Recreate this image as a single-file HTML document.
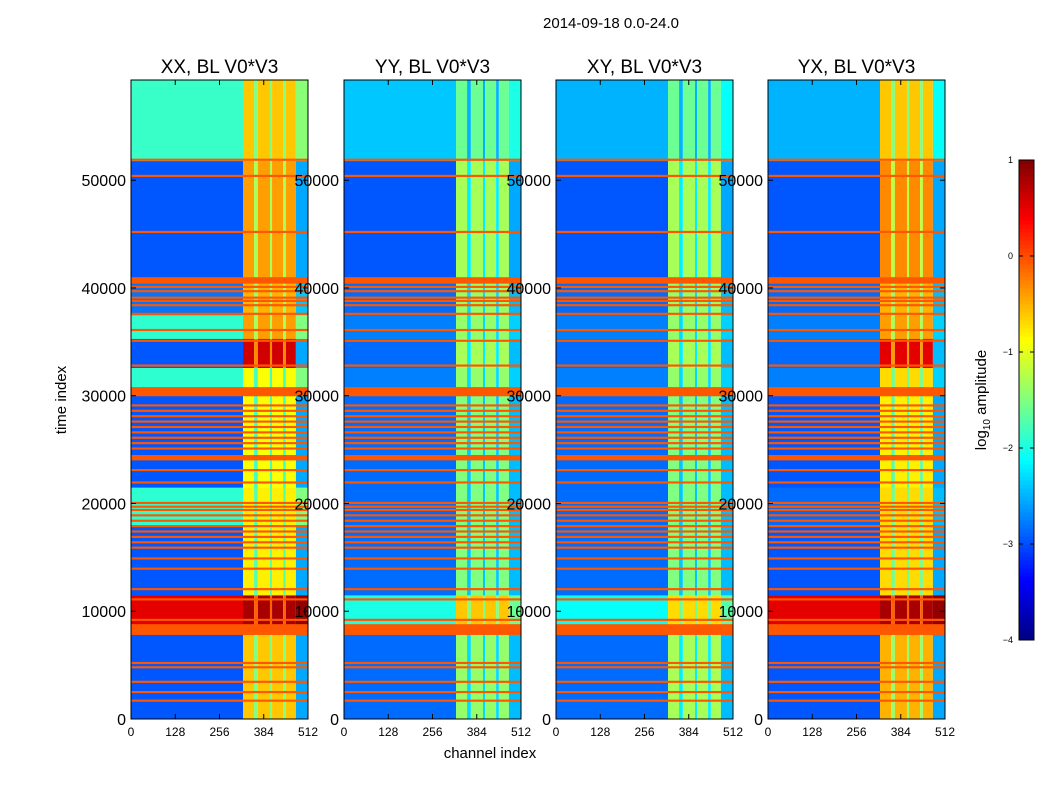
<!DOCTYPE html>
<html><head><meta charset="utf-8"><style>
body{margin:0;background:#fff;}
svg text{font-family:"Liberation Sans",sans-serif;}
</style></head><body>
<svg id="fig" width="1050" height="800" xmlns="http://www.w3.org/2000/svg">
<rect width="1050" height="800" fill="#fff"/>
<text x="611" y="28" font-size="15" text-anchor="middle">2014-09-18 0.0-24.0</text>
<text x="66" y="400" font-size="15" text-anchor="middle" transform="rotate(-90 66 400)">time index</text>
<text x="490" y="758" font-size="15" text-anchor="middle">channel index</text>
<g id="panels"></g>
<g id="cbar"></g>
<text x="986" y="400" font-size="15" text-anchor="middle" transform="rotate(-90 986 400)">log<tspan font-size="10" dy="4">10</tspan><tspan dy="-4"> amplitude</tspan></text>
</svg>
<script>
const panelTitles=["XX, BL V0*V3","YY, BL V0*V3","XY, BL V0*V3","YX, BL V0*V3"];
const yTicks=[0,10000,20000,30000,40000,50000];
const xTicks=[0,128,256,384,512];
const cbTicks=[1,0,-1,-2,-3,-4];
const segStarts=[0,8300,11500,18000,21500,30800,32600,35300,37500,41000,51800];
const bgXX=[-2.95,0.5,-2.95,-1.9,-2.95,-1.9,-2.95,-1.9,-2.8,-2.95,-1.85];
const bandXX=[-0.6,0.8,-0.8,-0.8,-0.9,-0.9,0.6,-0.4,-0.5,-0.4,-0.6];
const bgYY=[-2.85,-2.0,-2.85,-2.85,-2.85,-2.75,-2.85,-2.75,-2.85,-2.95,-2.4];
const bandYY=[-1.4,-0.6,-1.5,-1.5,-1.5,-1.4,-1.3,-1.4,-1.4,-1.3,-1.6];
const bgXY=[-2.85,-2.1,-2.85,-2.85,-2.85,-2.75,-2.85,-2.75,-2.85,-2.95,-2.5];
const bandXY=[-1.3,-0.7,-1.5,-1.5,-1.5,-1.4,-1.3,-1.4,-1.4,-1.3,-1.6];
const bgYX=[-2.95,0.5,-2.95,-2.85,-2.95,-2.75,-2.85,-2.75,-2.85,-2.95,-2.5];
const bandYX=[-0.5,0.8,-0.7,-0.7,-0.8,-0.7,0.5,-0.4,-0.5,-0.3,-0.6];
const colEdges=[0,324,356,367,402,408,440,448,477,512];
const colType=['bg','band','gap','band','gap','band','gap','band','edge'];
const flagStart=[1600,2400,3350,4700,5100,7800,9100,11000,11950,13850,14800,15800,16300,16800,17300,17800,18300,18800,19300,19600,19950,21850,23000,24000,25000,25500,26000,26500,27000,27500,28000,28500,29000,29950,32700,35000,36000,37500,38300,38700,39000,39600,40000,40400,45100,50300,51800];
const flagEnd=  [1800,2600,3550,4900,5300,8800,9300,11200,12150,14050,15000,16000,16500,17000,17500,18000,18500,19000,19500,19800,20150,22050,23200,24500,25200,25700,26200,26700,27200,27700,28200,28700,29200,30800,32900,35200,36200,37700,38500,38900,39200,39800,40200,41000,45300,50500,52000];
const tMax=59300, cMax=512;
const bgs=[bgXX,bgYY,bgXY,bgYX], bands=[bandXX,bandYY,bandXY,bandYX];
const panelX=[131,344,556,768], pw=177, plotTop=80, plotBot=719;
function jet(v){const t=Math.max(0,Math.min(1,(v+4)/5));
 const c=x=>Math.round(255*Math.max(0,Math.min(1,x)));
 return `rgb(${c(1.5-Math.abs(4*t-3))},${c(1.5-Math.abs(4*t-2))},${c(1.5-Math.abs(4*t-1))})`;}
const NS="http://www.w3.org/2000/svg";
function mk(tag,attrs,parent){const e=document.createElementNS(NS,tag);for(const k in attrs)e.setAttribute(k,attrs[k]);parent.appendChild(e);return e;}
const root=document.getElementById('panels');
panelTitles.forEach((title,p)=>{
 const x0=panelX[p];
 const xs=c=>x0+c/cMax*pw, ys=t=>plotBot-t/tMax*(plotBot-plotTop);
 const g=mk('g',{},root);
 
 
 segStarts.forEach((s,i)=>{
  const e=i+1<segStarts.length?segStarts[i+1]:tMax;
  for(let c=0;c<colType.length;c++){
   const ty=colType[c];
   let v=ty==='bg'?bgs[p][i]:ty==='band'?bands[p][i]:ty==='gap'?bands[p][i]-0.9:bgs[p][i]+0.4;
   const r=mk('rect',{x:xs(colEdges[c]),y:ys(e),width:xs(colEdges[c+1])-xs(colEdges[c]),height:ys(s)-ys(e)+0.3,fill:jet(v)},g);
   
   
  }
 });
 flagStart.forEach((s,k)=>{
  const r=mk('rect',{x:x0,y:ys(flagEnd[k]),width:pw,height:Math.max(1.5,ys(s)-ys(flagEnd[k])),fill:jet(-0.05)},g);
  
  
 });
 mk('rect',{x:x0,y:plotTop,width:pw,height:plotBot-plotTop,fill:'none',stroke:'#000','stroke-width':1},g);
 const tt=mk('text',{x:x0+pw/2,y:73,'font-size':19,'text-anchor':'middle'},g);tt.textContent=title;
 
 
 yTicks.forEach(t=>{const y=ys(t);
  mk('line',{x1:x0,x2:x0+5,y1:y,y2:y,stroke:'#000'},g);mk('line',{x1:x0+pw-5,x2:x0+pw,y1:y,y2:y,stroke:'#000'},g);
  const l=mk('text',{x:x0-5,y:y+6,'font-size':16,'text-anchor':'end'},g);l.textContent=t;
  
  
 });
 xTicks.forEach(c=>{const x=xs(c);
  mk('line',{x1:x,x2:x,y1:plotBot,y2:plotBot-5,stroke:'#000'},g);mk('line',{x1:x,x2:x,y1:plotTop,y2:plotTop+5,stroke:'#000'},g);
  const l=mk('text',{x:x,y:736,'font-size':12,'text-anchor':'middle'},g);l.textContent=c;
  
  
 });
});
const cb=document.getElementById('cbar');
const cbTop=160,cbBot=640,cbX=1019,cbW=15;
const cy=v=>cbBot-(v+4)/5*(cbBot-cbTop);
for(let k=0;k<120;k++){const v0=-4+k*5/120,v1=-4+(k+1)*5/120;
 mk('rect',{x:cbX,y:cy(v1),width:cbW,height:cy(v0)-cy(v1)+0.5,fill:jet((v0+v1)/2)},cb);}
mk('rect',{x:cbX,y:cbTop,width:cbW,height:cbBot-cbTop,fill:'none',stroke:'#000'},cb);
cbTicks.forEach(v=>{const y=cy(v);
 mk('line',{x1:cbX,x2:cbX+4,y1:y,y2:y,stroke:'#000'},cb);mk('line',{x1:cbX+cbW-4,x2:cbX+cbW,y1:y,y2:y,stroke:'#000'},cb);
 const l=mk('text',{x:1013,y:y+3,'font-size':9,'text-anchor':'end'},cb);l.textContent=v<0?'\u2212'+(-v):v;
 
 
});
</script>
</body></html>
